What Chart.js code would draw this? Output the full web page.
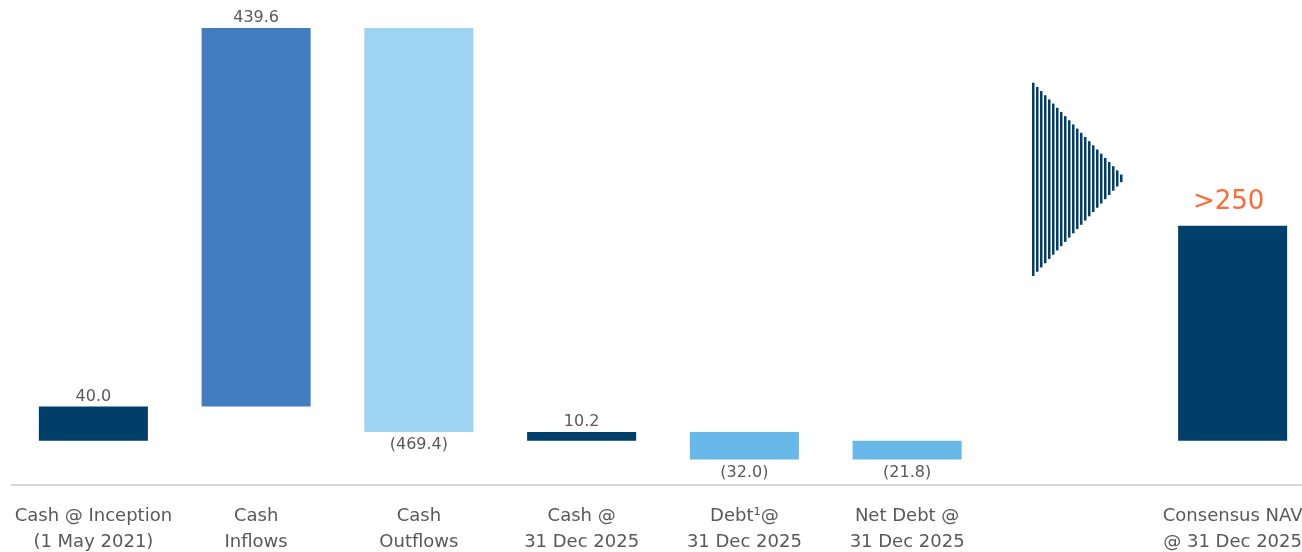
<!DOCTYPE html>
<html>
<head>
<meta charset="utf-8">
<script src="https://cdn.jsdelivr.net/npm/chart.js@4"></script>
<style>
  html, body { margin: 0; padding: 0; background: #fff; overflow: hidden; }
  #wrap { position: relative; width: 1314px; height: 573px; }
</style>
</head>
<body>
<div id="wrap"><canvas id="bridge"></canvas></div>
<script>
// bridge steps (USD m)
var labels = [
  ["Cash @ Inception", "(1 May 2021)"],
  ["Cash", "Inflows"],
  ["Cash", "Outflows"],
  ["Cash @", "31 Dec 2025"],
  ["Debt\u00b9@", "31 Dec 2025"],
  ["Net Debt @", "31 Dec 2025"],
  "",
  ["Consensus NAV", "@ 31 Dec 2025"]
];
var starts = [0, 40.0, 479.6, 0, 10.2, 0, null, 0];
var ends   = [40.0, 479.6, 10.2, 10.2, -21.8, -21.8, null, 250];
var valueText = ["40.0", "439.6", "(469.4)", "10.2", "(32.0)", "(21.8)", "", ">250"];
var colors = ['#003F69', '#427DC0', '#9ED3F2', '#003F69', '#68B8E9', '#68B8E9', '#ffffff', '#003F69'];

var bars = starts.map(function (s, i) {
  return s === null ? null : [s, ends[i]];
});

// value labels above / below each bar
var valueLabels = {
  id: 'valueLabels',
  afterDatasetsDraw: function (chart) {
    var ctx = chart.ctx;
    var meta = chart.getDatasetMeta(0);
    ctx.save();
    ctx.textAlign = 'center';
    ctx.textBaseline = 'middle';
    meta.data.forEach(function (bar, i) {
      if (!valueText[i]) return;
      var top = Math.min(bar.y, bar.base);
      var bottom = Math.max(bar.y, bar.base);
      if (i === 7) {
        ctx.fillStyle = '#FF6A33';
        ctx.font = '26px "DejaVu Sans"';
        ctx.fillText(valueText[i], bar.x - 4, top - 23);
      } else if (ends[i] >= starts[i]) {
        ctx.fillStyle = '#595959';
        ctx.font = '16px "DejaVu Sans"';
        ctx.fillText(valueText[i], bar.x, top - 10);
      } else {
        ctx.fillStyle = '#595959';
        ctx.font = '16px "DejaVu Sans"';
        ctx.fillText(valueText[i], bar.x, bottom + 13);
      }
    });
    ctx.restore();
  }
};

// striped arrow in the empty slot
var stripedArrow = {
  id: 'stripedArrow',
  afterDatasetsDraw: function (chart) {
    var ctx = chart.ctx;
    var xs = chart.scales.x, ys = chart.scales.y;
    var cx = xs.getPixelForValue(6);
    var left = Math.round(cx - 38), tip = cx + 55;
    var yTop = ys.getPixelForValue(417.6);
    var yBot = ys.getPixelForValue(190);
    var yMid = ys.getPixelForValue(305);
    ctx.save();
    ctx.fillStyle = '#003F69';
    for (var x = left; x < tip - 2; x += 4) {
      var f = (x + 1.25 - left) / (tip - left);
      var t = yTop + (yMid - yTop) * f;
      var b = yBot - (yBot - yMid) * f;
      ctx.fillRect(x, t, 2.5, b - t);
    }
    ctx.restore();
  }
};

new Chart(document.getElementById('bridge'), {
  type: 'bar',
  data: {
    labels: labels,
    datasets: [{
      data: bars,
      backgroundColor: colors,
      borderWidth: 0,
      barPercentage: 1,
      categoryPercentage: 0.67
    }]
  },
  options: {
    responsive: true,
    maintainAspectRatio: false,
    animation: false,
    layout: { padding: { left: 12, right: 0, top: 0, bottom: 0 } },
    plugins: {
      legend: { display: false },
      tooltip: { enabled: false }
    },
    scales: {
      x: {
        grid: { display: false, drawTicks: false },
        border: { display: true, color: '#D9D9D9', width: 2 },
        ticks: {
          color: '#595959',
          font: { family: '"DejaVu Sans"', size: 18, lineHeight: 1.45 },
          padding: 18,
          maxRotation: 0,
          autoSkip: false
        },
        afterFit: function (scale) {
          scale.paddingLeft = 0;
          scale.paddingRight = 0;
        }
      },
      y: {
        display: false,
        min: -51.1,
        max: 512.2
      }
    }
  },
  plugins: [valueLabels, stripedArrow]
});
</script>
</body>
</html>
